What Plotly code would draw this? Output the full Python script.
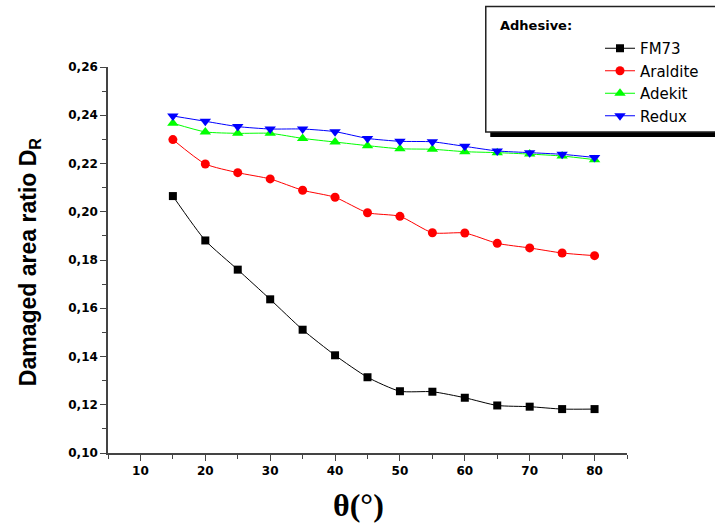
import plotly.graph_objects as go

theta = [15, 20, 25, 30, 35, 40, 45, 50, 55, 60, 65, 70, 75, 80]
fm73 = [0.2065, 0.1881, 0.1760, 0.1637, 0.1511, 0.1405, 0.1314, 0.1256, 0.1254,
        0.1229, 0.1197, 0.1192, 0.1182, 0.1182]
araldite = [0.2299, 0.2198, 0.2162, 0.2136, 0.2089, 0.2060, 0.1996, 0.1981, 0.1913,
            0.1912, 0.1869, 0.1850, 0.1829, 0.1818]
adekit = [0.2367, 0.2331, 0.2325, 0.2325, 0.2304, 0.2289, 0.2274, 0.2261, 0.2259,
          0.2249, 0.2245, 0.2239, 0.2231, 0.2216]
redux = [0.2397, 0.2375, 0.2353, 0.2343, 0.2343, 0.2332, 0.2304, 0.2292, 0.2290,
         0.2271, 0.2252, 0.2245, 0.2238, 0.2225]

series = [
    ("FM73", fm73, "#000000", "square", 8),
    ("Araldite", araldite, "#FF0000", "circle", 9),
    ("Adekit", adekit, "#00FF00", "triangle-up", 10),
    ("Redux", redux, "#0000FF", "triangle-down", 10),
]

fig = go.Figure()
for name, vals, col, sym, size in series:
    fig.add_trace(go.Scatter(
        x=theta, y=vals, name=name, mode="lines+markers",
        line=dict(color=col, width=1, shape="spline", smoothing=0.6),
        marker=dict(symbol=sym, size=size, color=col),
    ))

W, H = 715, 526
L, R, T, B = 108, 87, 67, 73
pw, ph = W - L - R, H - T - B

def px_x(p):
    return (p - L) / pw

def px_y(p):
    return (H - B - p) / ph

axis_font = dict(family="DejaVu Sans", size=12, color="#000000", weight="bold")

fig.update_layout(
    width=W, height=H,
    margin=dict(l=L, r=R, t=T, b=B),
    plot_bgcolor="white", paper_bgcolor="white",
    separators=", ",
    showlegend=True,
    legend=dict(
        x=px_x(600), y=px_y(32), xanchor="left", yanchor="top",
        bgcolor="rgba(0,0,0,0)", borderwidth=0,
        font=dict(family="DejaVu Sans", size=15, color="#000000"),
    ),
    xaxis=dict(
        range=[5, 85], dtick=10, tick0=0,
        showgrid=False, zeroline=False,
        showline=True, linecolor="#444444", linewidth=1.5,
        ticks="outside", ticklen=6, tickwidth=1, tickcolor="#444444",
        minor=dict(dtick=5, tick0=0, ticks="outside", ticklen=4, tickcolor="#444444"),
        tickfont=axis_font,
    ),
    yaxis=dict(
        range=[0.10, 0.26], dtick=0.02, tick0=0,
        tickformat=".2f",
        showgrid=False, zeroline=False,
        showline=True, linecolor="#444444", linewidth=1.5,
        ticks="outside", ticklen=6, tickwidth=1, tickcolor="#444444",
        minor=dict(dtick=0.01, tick0=0, ticks="outside", ticklen=4, tickcolor="#444444"),
        tickfont=axis_font,
    ),
    shapes=[
        dict(type="rect", xref="paper", yref="paper",
             x0=px_x(491), x1=px_x(730), y0=px_y(137), y1=px_y(132),
             fillcolor="#000000", line=dict(width=0)),
        dict(type="rect", xref="paper", yref="paper",
             x0=px_x(486.5), x1=px_x(730), y0=px_y(132), y1=px_y(6.5),
             fillcolor="rgba(0,0,0,0)", line=dict(color="#222222", width=1.5)),
    ],
    annotations=[
        dict(text="<b>Adhesive:</b>", xref="paper", yref="paper",
             x=px_x(499), y=px_y(25), xanchor="left", yanchor="middle",
             showarrow=False, font=dict(family="DejaVu Sans", size=13, color="#000000")),
        dict(text="<b>Damaged area ratio D<sub>R</sub></b>", xref="paper", yref="paper",
             x=px_x(29), y=px_y(262), xanchor="center", yanchor="middle", textangle=-90,
             showarrow=False,
             font=dict(family="Liberation Sans Narrow, Liberation Sans", size=23, color="#000000")),
        dict(text="<b>θ(°)</b>", xref="paper", yref="paper",
             x=px_x(359), y=px_y(505), xanchor="center", yanchor="middle",
             showarrow=False, font=dict(family="Liberation Serif", size=32, color="#000000")),
    ],
)

fig.write_html("out.html", config={"displayModeBar": False},
               post_script="document.body.style.margin='0';")
